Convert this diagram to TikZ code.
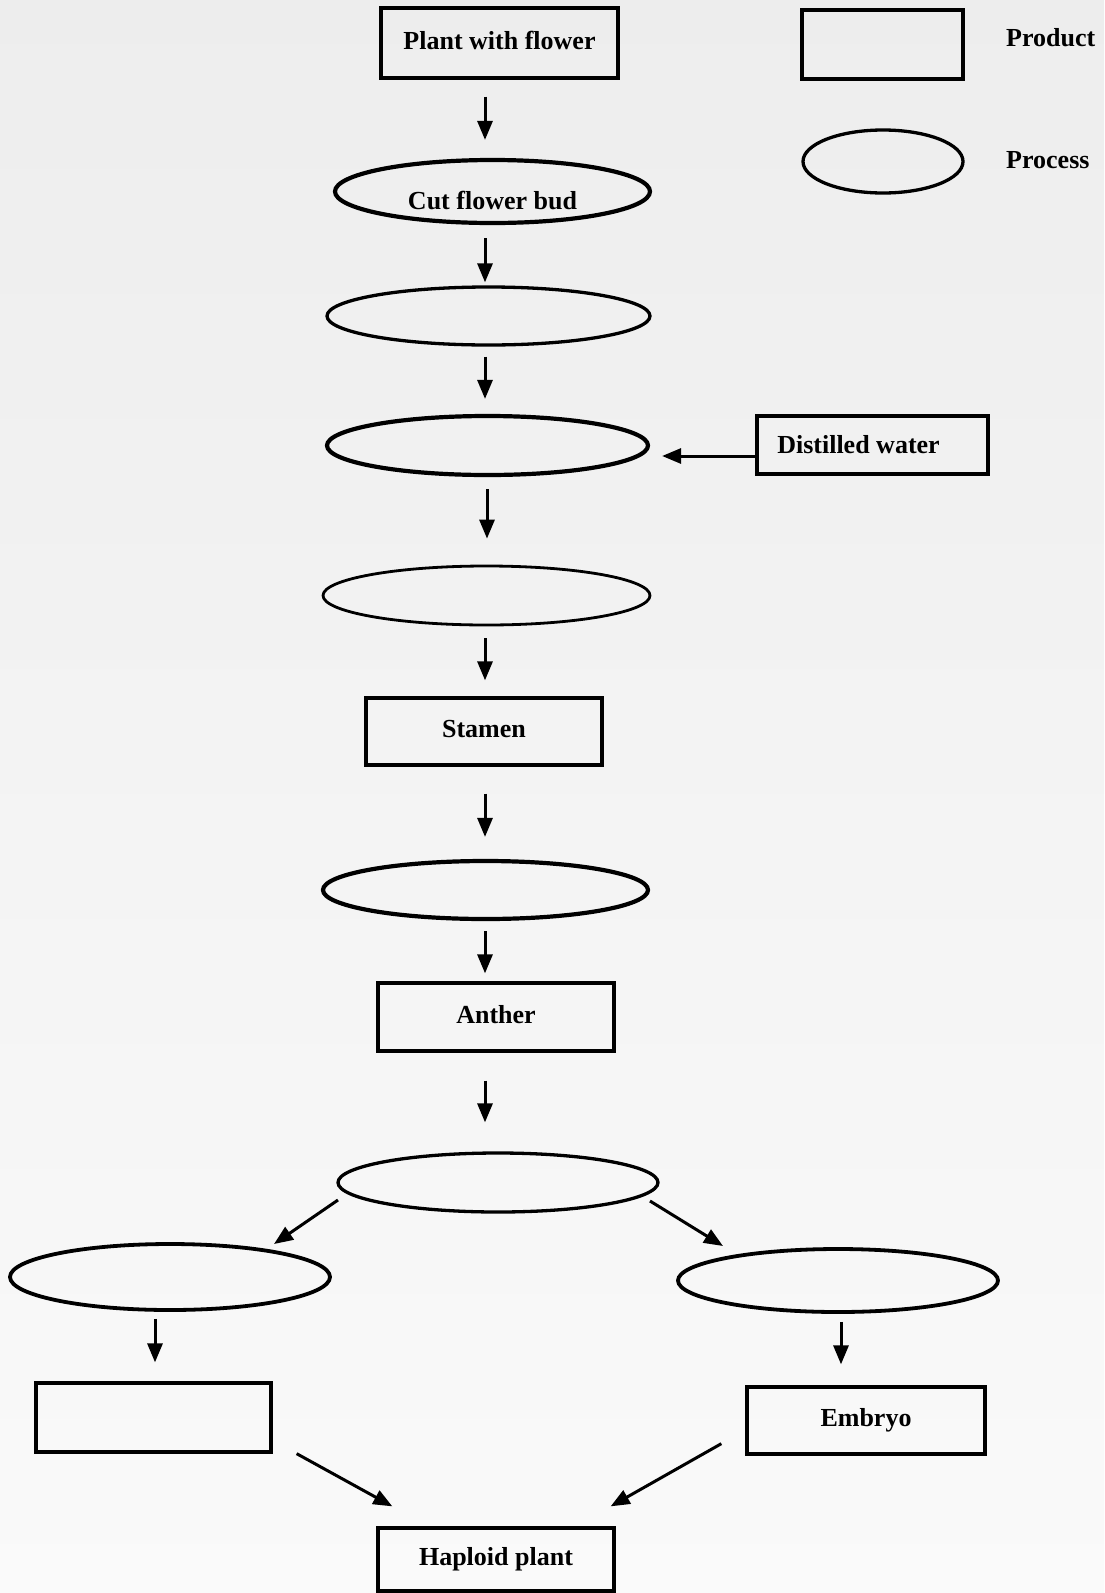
\documentclass[tikz,border=0pt]{standalone}
\usepackage{fontspec}
\setmainfont{Liberation Serif}
\usetikzlibrary{shapes.geometric,arrows.meta,calc}
\begin{document}
\begin{tikzpicture}[x=1pt,y=-1pt,
  every node/.style={font=\fontsize{26}{30}\selectfont\bfseries, inner sep=0pt},
  prodbox/.style={draw, rectangle, line width=3.3pt, text height=18pt, text depth=6pt},
  proc/.style={draw, ellipse, line width=3.3pt},
  arr/.style={line width=3pt, -{Triangle[length=19pt,width=15pt]}}]
\useasboundingbox (0,0) rectangle (1104,1593);
\fill[top color=black!7, bottom color=black!2] (0,0) rectangle (1104,1593);

% legend
\node[prodbox, minimum width=161pt, minimum height=69pt] (lrect) at (882.5,44.5) {};
\node[anchor=west] (lprod) at (1006,38) {Product};
\node[proc, minimum width=160pt, minimum height=63pt] (lell) at (883,161.5) {};
\node[anchor=west] (lproc) at (1006,160) {Process};

% main chain
\node[prodbox, minimum width=237pt, minimum height=70pt] (plant) at (499.5,43) {Plant with flower};
\node[proc, line width=4.2pt, minimum width=315pt, minimum height=63pt, text height=36pt, text depth=0pt] (cut) at (492.5,191.5) {Cut flower bud};
\node[proc, minimum width=323pt, minimum height=58pt] (e2) at (488.5,316) {};
\node[proc, line width=4.2pt, minimum width=321pt, minimum height=59pt] (e3) at (487.5,445.5) {};
\node[prodbox, minimum width=231pt, minimum height=58pt,
      label={[xshift=-14pt]center:Distilled water}] (dw) at (872.5,445) {};
\node[proc, line width=2.8pt, minimum width=327pt, minimum height=59pt] (e4) at (486.5,595.5) {};
\node[prodbox, minimum width=236pt, minimum height=67pt] (stamen) at (484,731.5) {Stamen};
\node[proc, line width=4.2pt, minimum width=325pt, minimum height=58pt] (e5) at (485.5,890) {};
\node[prodbox, minimum width=236pt, minimum height=68pt] (anther) at (496,1017) {Anther};
\node[proc, minimum width=320pt, minimum height=59pt] (e6) at (498,1182.5) {};
\node[proc, line width=3.8pt, minimum width=320pt, minimum height=66pt] (le) at (170,1277) {};
\node[proc, line width=3.8pt, minimum width=320pt, minimum height=63pt] (re) at (838,1280.5) {};
\node[prodbox, minimum width=235pt, minimum height=69pt] (lbox) at (153.5,1417.5) {};
\node[prodbox, minimum width=238pt, minimum height=67pt] (emb) at (866,1420.5) {Embryo};
\node[prodbox, minimum width=236pt, minimum height=63pt] (hap) at (496,1559.5) {Haploid plant};

% connectors
\draw[arr] ($(plant.south)+(-14.5,17)$) -- ($(cut.north)+(-7.5,-18)$);
\draw[arr] ($(cut.south)+(-7.5,13)$) -- ($(e2.north)+(-3.5,-3)$);
\draw[arr] ($(e2.south)+(-3.5,10)$) -- ($(e3.north)+(-2.5,-15)$);
\draw[arr] ($(dw.west)+(0,11)$) -- ($(e3.east)+(12,10.5)$);
\draw[arr] ($(e3.south)+(-0.5,12)$) -- ($(e4.north)+(0.5,-26)$);
\draw[arr] ($(e4.south)+(-1.5,12)$) -- ($(stamen.north)+(1,-16)$);
\draw[arr] ($(stamen.south)+(1,27)$) -- ($(e5.north)+(-0.5,-22)$);
\draw[arr] ($(e5.south)+(-0.5,10)$) -- ($(anther.north)+(-11,-8)$);
\draw[arr] ($(anther.south)+(-11,28)$) -- ($(e6.north)+(-13,-29)$);
\draw[arr] ($(e6.center)+(-160,17.5)$) -- ($(le.center)+(104,-33)$);
\draw[arr] ($(e6.center)+(152,18.5)$) -- ($(re.center)+(-115,-34.5)$);
\draw[arr] ($(le.south)+(-15,7)$) -- ($(lbox.north)+(1.5,-19)$);
\draw[arr] ($(re.south)+(3,8)$) -- ($(emb.north)+(-25,-21)$);
\draw[arr] ($(lbox.south east)+(24,0)$) -- ($(hap.north west)+(16,-20)$);
\draw[arr] ($(emb.south west)+(-24,-12)$) -- ($(hap.north east)+(-5,-20)$);
\end{tikzpicture}
\end{document}
